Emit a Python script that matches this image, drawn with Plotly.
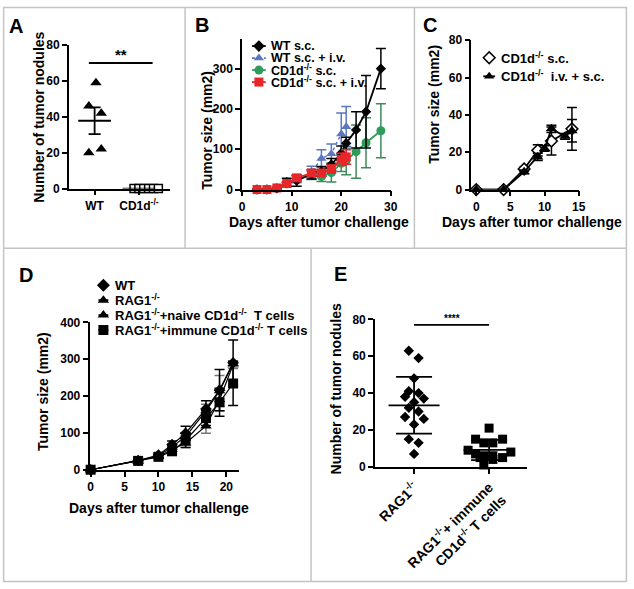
import numpy as np
import plotly.graph_objects as go

W, H = 634, 589
FONT = "Liberation Sans, Arial, Helvetica, sans-serif"

# ---- panel A: lung nodules, WT vs CD1d-/- ----
A_groups = ["WT", "CD1d<sup>-/-</sup>"]
A_wt = [59, 46, 42, 20, 22]
A_wt_jit = [0.03, -0.13, 0.15, -0.13, 0.15]
A_ko = [0, 0, 0, 0, 0, 0]
A_ko_jit = [-0.11, 0.0, 0.11, 0.22, 0.33, 0.44]
A_ticks = [0, 20, 40, 60, 80]

# ---- panel B: tumor growth ----
B_days_wt = [3, 5, 7, 9, 11, 14, 16, 18, 20, 21, 23, 25, 28]
B_wt = [0, 0, 3, 18, 22, 38, 45, 62, 90, 115, 148, 193, 300]
B_wt_err = [0, 0, 2, 10, 14, 12, 12, 15, 18, 15, 45, 90, 50]
B_days_wtiv = [3, 5, 7, 9, 11, 14, 16, 18, 20, 21]
B_wtiv = [0, 0, 3, 12, 25, 43, 77, 89, 138, 156]
B_wtiv_err = [0, 0, 2, 5, 8, 15, 22, 24, 52, 50]
B_days_ko = [3, 5, 7, 9, 11, 14, 16, 18, 20, 21, 23, 25, 28]
B_ko = [0, 0, 3, 14, 27, 35, 32, 42, 65, 72, 94, 116, 146]
B_ko_err = [0, 0, 2, 5, 8, 10, 12, 23, 20, 35, 66, 62, 67]
B_days_koiv = [3, 5, 7, 9, 11, 14, 16, 18, 20, 21]
B_koiv = [0, 0, 4, 15, 29, 41, 41, 51, 75, 81]
B_koiv_err = [0, 0, 2, 4, 6, 7, 8, 10, 15, 18]

# ---- panel C ----
C_days_sc = [0, 4, 7, 9, 11, 14]
C_sc = [0, 0, 11, 21, 26, 32.5]
C_sc_err = [0, 0, 1, 3, 7.5, 11.5]
C_days_iv = [0, 4, 7, 9, 10, 11, 13, 14]
C_iv = [0, 0, 9.5, 17.5, 22, 32.5, 28.5, 31.5]
C_iv_err = [0, 0, 1, 2, 1.5, 2, 1.5, 6]

# ---- panel D ----
D_days = [0, 7, 10, 12, 14, 17, 19, 21]
D_wt = [0, 25, 40, 68, 99, 165, 216, 290]
D_wt_err = [0, 3, 5, 10, 19, 22, 56, 62]
D_rag = [0, 24, 38, 62, 90, 160, 214, 288]
D_rag_err = [0, 3, 4, 8, 10, 18, 42, 8]
D_naive = [0, 24, 36, 55, 72, 119, 190, 285]
D_naive_err = [0, 3, 4, 8, 12, 20, 30, 10]
D_immune = [0, 24, 35, 50, 80, 140, 183, 234]
D_immune_err = [0, 3, 4, 8, 20, 20, 38, 60]

# ---- panel E ----
E_groups = ["RAG1<sup>-/-</sup>", "RAG1<sup>-/-</sup>+ immune<br>CD1d<sup>-/-</sup> T cells"]
E_rag = [63, 59, 48, 41, 40, 38, 37, 35, 32, 30, 27, 26, 23, 15, 13, 7]
E_rag_jit = [-0.07, 0.06, 0, -0.07, 0.06, -0.12, 0.13, 0, -0.07, 0.06, -0.12, 0.13, 0, -0.07, 0.06, 0]
E_imm = [21, 15, 15, 13, 13, 9, 8, 7, 6, 6, 5, 5, 4, 1]
E_imm_jit = [0, -0.18, 0.18, -0.07, 0.05, -0.28, 0.29, -0.18, -0.07, 0.05, 0.18, -0.12, 0.05, -0.07]

BLUE = "#5a78c0"
GREEN = "#2f9c5c"
GREEN_ERR = "#3e8a5a"
RED = "#e8262a"
GRAY = "#c4c4c4"


def dom_x(a, b):
    return [a / W, b / W]


def dom_y(bottom, top):
    return [1 - bottom / H, 1 - top / H]


def axis(**kw):
    base = dict(showline=True, linecolor="black", linewidth=1.8, ticks="outside",
                ticklen=5, tickwidth=1.6, tickcolor="black", showgrid=False,
                zeroline=False, fixedrange=True,
                tickfont=dict(family=FONT, size=12, color="black", weight="bold"))
    base.update(kw)
    return base


fig = go.Figure()


def growth(ax, days, vals, err, symbol, color, size, line_color=None, dash="solid",
           err_color=None, fill=None, lw=1.8):
    fig.add_trace(go.Scatter(
        x=days, y=vals, xaxis="x" + ax, yaxis="y" + ax, mode="lines+markers",
        line=dict(color=line_color or color, width=lw, dash=dash),
        marker=dict(symbol=symbol, size=size, color=fill or color,
                    line=dict(color=color, width=1.5 if fill else 0)),
        error_y=dict(type="data", array=err, color=err_color or color,
                     thickness=1.5, width=5),
        cliponaxis=False, showlegend=False, hoverinfo="x+y"))


def dots(ax, pos, vals, jit, symbol, size, color="black", fill=None, halfw=0.35,
         capw=6, spread="sem"):
    v = np.array(vals, dtype=float)
    fig.add_trace(go.Scatter(
        x=[pos + j for j in jit], y=vals, xaxis="x" + ax, yaxis="y" + ax,
        mode="markers", cliponaxis=False, showlegend=False,
        marker=dict(symbol=symbol, size=size, color=fill or color,
                    line=dict(color=color, width=1.5 if fill else 0))))
    m = v.mean()
    s = v.std(ddof=1) if len(v) > 1 else 0
    if spread == "sem":
        s = s / np.sqrt(len(v))
    fig.add_trace(go.Scatter(
        x=[pos - halfw, pos + halfw], y=[m, m], xaxis="x" + ax, yaxis="y" + ax,
        mode="lines", line=dict(color="black", width=1.8), showlegend=False,
        cliponaxis=False, hoverinfo="skip"))
    if s > 0:
        fig.add_trace(go.Scatter(
            x=[pos], y=[m], xaxis="x" + ax, yaxis="y" + ax, mode="markers",
            marker=dict(size=1, opacity=0), showlegend=False, hoverinfo="skip",
            error_y=dict(type="data", array=[s], color="black", thickness=1.8,
                         width=capw)))


# A
dots("", 0, A_wt, A_wt_jit, "triangle-up", 10, halfw=0.37, capw=6)
dots("", 1, A_ko, A_ko_jit, "square", 8, fill="white", halfw=0.37, capw=6)

# B
growth("2", B_days_ko, B_ko, B_ko_err, "circle", GREEN, 9, err_color=GREEN_ERR)
growth("2", B_days_wtiv, B_wtiv, B_wtiv_err, "triangle-up", BLUE, 9, dash="dot", lw=1.5)
growth("2", B_days_wt, B_wt, B_wt_err, "diamond", "black", 8)
growth("2", B_days_koiv, B_koiv, B_koiv_err, "square", RED, 9)

# C
growth("3", C_days_sc, C_sc, C_sc_err, "diamond", "black", 9, fill="white")
growth("3", C_days_iv, C_iv, C_iv_err, "triangle-up", "black", 10)

# D
growth("4", D_days, D_naive, D_naive_err, "triangle-up", "black", 10, err_color="#777", lw=1.2)
growth("4", D_days, D_rag, D_rag_err, "triangle-up", "black", 10, err_color="#777", lw=1.2)
growth("4", D_days, D_wt, D_wt_err, "diamond", "black", 9, lw=1.2)
growth("4", D_days, D_immune, D_immune_err, "square", "black", 10, lw=1.2)

# E
dots("5", 0, E_rag, E_rag_jit, "diamond", 8, halfw=0.34, capw=18, spread="sd")
dots("5", 1, E_imm, E_imm_jit, "square", 9, halfw=0.34, capw=18, spread="sd")

# legend keys drawn on a full-page overlay axis (pixel coordinates)
def key(xc, yc, symbol, color, text, size=9, fill=None, dash="solid", half=7, fs=13):
    fig.add_trace(go.Scatter(
        x=[xc - half, xc + half], y=[yc, yc], xaxis="x6", yaxis="y6", mode="lines",
        line=dict(color=color, width=1.8, dash=dash), showlegend=False,
        hoverinfo="skip"))
    fig.add_trace(go.Scatter(
        x=[xc], y=[yc], xaxis="x6", yaxis="y6", mode="markers", showlegend=False,
        marker=dict(symbol=symbol, size=size, color=fill or color,
                    line=dict(color=color, width=1.5 if fill else 0)),
        hoverinfo="skip"))
    fig.add_annotation(x=xc + 10, y=yc, xref="x6", yref="y6", text=text,
                       showarrow=False, xanchor="left", yanchor="middle",
                       font=dict(family=FONT, size=fs, color="black", weight="bold"))


B_keys = [("diamond", "black", "WT s.c.", None, "solid"),
          ("triangle-up", BLUE, "WT s.c. + i.v.", None, "dot"),
          ("circle", GREEN, "CD1d<sup>-/-</sup> s.c.", None, "solid"),
          ("square", RED, "CD1d<sup>-/-</sup> s.c. + i.v.", None, "solid")]
for i, (sym, col, txt, fl, ds) in enumerate(B_keys):
    key(260, 40 + i * 12.3, sym, col, txt, fill=fl, dash=ds, fs=12.5)

C_keys = [("diamond", "black", "CD1d<sup>-/-</sup> s.c.", "white"),
          ("triangle-up", "black", "CD1d<sup>-/-</sup>  i.v. + s.c.", None)]
for i, (sym, col, txt, fl) in enumerate(C_keys):
    key(494, 52 + i * 19, sym, col, txt, fill=fl, half=6)

D_keys = [("diamond", "WT"),
          ("triangle-up", "RAG1<sup>-/-</sup>"),
          ("triangle-up", "RAG1<sup>-/-</sup>+naive CD1d<sup>-/-</sup>  T cells"),
          ("square", "RAG1<sup>-/-</sup>+immune CD1d<sup>-/-</sup> T cells")]
for i, (sym, txt) in enumerate(D_keys):
    key(102, 285 + i * 15.3, sym, "black", txt, half=5, size=10)

# axes
fig.update_layout(
    xaxis=axis(domain=dom_x(67, 170), range=[-0.58, 1.71], tickvals=[0, 1],
               ticktext=A_groups, anchor="y"),
    yaxis=axis(domain=dom_y(186, 39), range=[0, 80], tickvals=A_ticks, anchor="x"),
    xaxis2=axis(domain=dom_x(243, 394), range=[0, 30], tickvals=[0, 10, 20, 30], anchor="y2"),
    yaxis2=axis(domain=dom_y(187, 33), range=[0, 373], tickvals=[0, 100, 200, 300], anchor="x2"),
    xaxis3=axis(domain=dom_x(476, 585), range=[-0.7, 15], tickvals=[0, 5, 10, 15], anchor="y3"),
    yaxis3=axis(domain=dom_y(187, 34), range=[0, 80], tickvals=[0, 20, 40, 60, 80], anchor="x3"),
    xaxis4=axis(domain=dom_x(88, 240), range=[-0.15, 21.9], tickvals=[0, 5, 10, 15, 20], anchor="y4"),
    yaxis4=axis(domain=dom_y(474, 323), range=[0, 400], tickvals=[0, 100, 200, 300, 400], anchor="x4"),
    xaxis5=axis(domain=dom_x(378, 532), range=[-0.52, 1.5], tickvals=[0, 1],
                ticktext=E_groups, tickangle=-45, anchor="y5",
                tickfont=dict(family=FONT, size=14, color="black", weight="bold")),
    yaxis5=axis(domain=dom_y(471, 320), range=[0, 80], tickvals=[0, 20, 40, 60, 80], anchor="x5"),
    xaxis6=dict(domain=[0, 1], range=[0, W], visible=False, fixedrange=True, anchor="y6"),
    yaxis6=dict(domain=[0, 1], range=[H, 0], visible=False, fixedrange=True, anchor="x6"),
)

# significance bars
fig.add_shape(type="line", xref="x", yref="y", x0=-0.13, x1=1.31, y0=70, y1=70,
              line=dict(color="black", width=1.8))
fig.add_annotation(x=0.59, y=70, xref="x", yref="y", text="**", showarrow=False,
                   yanchor="bottom", yshift=-2,
                   font=dict(family=FONT, size=15, color="black", weight="bold"))
fig.add_shape(type="line", xref="x5", yref="y5", x0=0, x1=1, y0=77, y1=77,
              line=dict(color="black", width=1.8))
fig.add_annotation(x=0.5, y=77, xref="x5", yref="y5", text="****", showarrow=False,
                   yanchor="bottom", yshift=-1,
                   font=dict(family=FONT, size=10, color="black", weight="bold"))

# axis titles and panel letters (page pixel positions)
title_font = dict(family=FONT, size=14, color="black", weight="bold")
titles = [
    (37, 113, "Number of tumor nodules", -90),
    (207, 126, "Tumor size (mm2)", -90),
    (438, 100, "Tumor size (mm2)", -90),
    (40, 394, "Tumor size (mm2)", -90),
    (338, 391, "Number of tumor nodules", -90),
    (321, 220, "Days after tumor challenge", 0),
    (537, 220, "Days after tumor challenge", 0),
    (159, 513, "Days after tumor challenge", 0),
]
for x, y, t, ang in titles:
    fig.add_annotation(x=x, y=y, xref="x6", yref="y6", text=t, showarrow=False,
                       textangle=ang, xanchor="center", yanchor="middle", font=title_font)

letters = [(13, 19, "A"), (202, 18, "B"), (434, 18, "C"), (23, 275, "D"), (343, 274, "E")]
for x, y, t in letters:
    fig.add_annotation(x=x, y=y, xref="x6", yref="y6", text=t, showarrow=False,
                       xanchor="center", yanchor="middle",
                       font=dict(family=FONT, size=20, color="black", weight="bold"))

# panel frames
frame = dict(color=GRAY, width=1.5)
for x0, y0, x1, y1 in [(185, 0, 185, 247), (418, 0, 418, 247), (0, 247, W, 247),
                       (313, 247, 313, H)]:
    fig.add_shape(type="line", xref="paper", yref="paper", x0=x0 / W, x1=x1 / W,
                  y0=1 - y0 / H, y1=1 - y1 / H, line=frame)
fig.add_shape(type="rect", xref="paper", yref="paper", x0=0.001, x1=0.999,
              y0=0.001, y1=0.999, line=frame)

# transparent plot areas so the full-page overlay axis does not hide the panels
fig.update_layout(
    width=W, height=H, margin=dict(l=0, r=0, t=0, b=0),
    plot_bgcolor="rgba(0,0,0,0)", paper_bgcolor="white", showlegend=False,
    font=dict(family=FONT, size=12, color="black"),
)

# drop the browser's default body margin so the figure fills the window
fig.write_html("out.html", config={"displayModeBar": False},
               post_script="document.body.style.margin='0';")
